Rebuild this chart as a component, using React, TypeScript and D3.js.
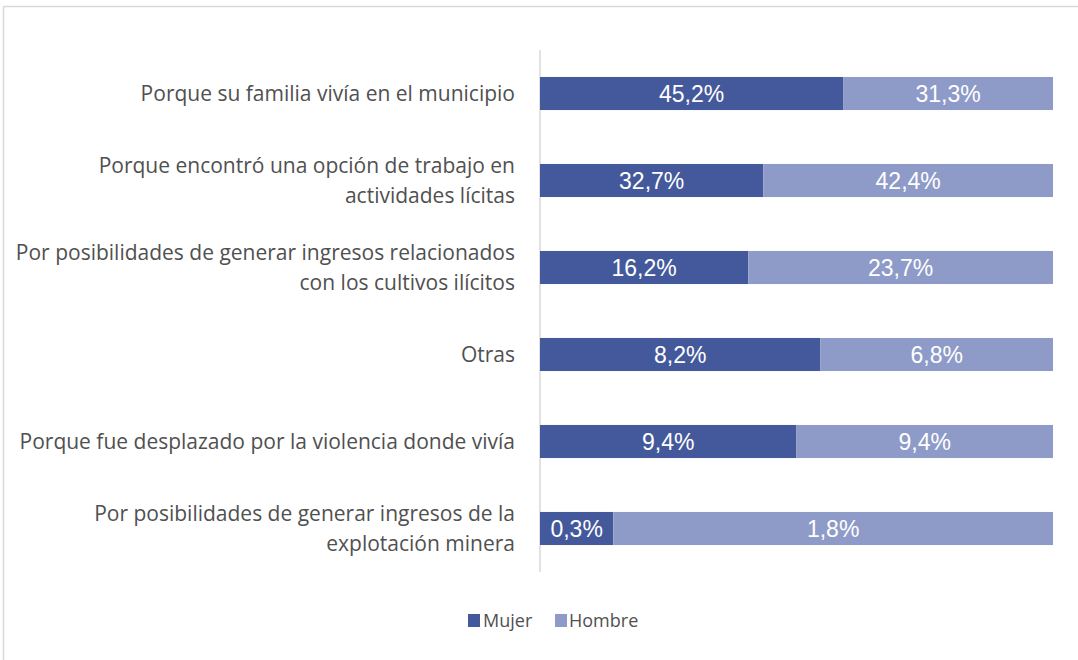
import React from "react";
import * as d3 from "d3";

const categories: string[][] = [
  ["Porque su familia vivía en el municipio"],
  ["Porque encontró una opción de trabajo en", "actividades lícitas"],
  ["Por posibilidades de generar ingresos relacionados", "con los cultivos ilícitos"],
  ["Otras"],
  ["Porque fue desplazado por la violencia donde vivía"],
  ["Por posibilidades de generar ingresos de la", "explotación minera"],
];
const mujer = [45.2, 32.7, 16.2, 8.2, 9.4, 0.3];
const hombre = [31.3, 42.4, 23.7, 6.8, 9.4, 1.8];
const seriesNames = ["Mujer", "Hombre"];
const colors = ["#44599b", "#8e9bc8"];

const W = 1078;
const H = 660;
const left = 540;
const right = 1053;
const top = 50;
const bottom = 572;

export default function App() {
  const keys = categories.map((_, i) => String(i));
  const y = d3.scaleBand<string>().domain(keys).range([top, bottom]).paddingInner(0.62).paddingOuter(0.31);
  const x = d3.scaleLinear().domain([0, 1]).range([left, right]);
  const fmt = (v: number) => v.toFixed(1).replace(".", ",") + "%";

  return (
    <svg width={W} height={H} style={{ position: "absolute", left: 0, top: 0, background: "#fff" }}
      fontFamily="'Liberation Sans', Arial, sans-serif">
      <rect x={3.5} y={6.5} width={W} height={H} fill="none" stroke="#d9d9d9" strokeWidth={1.5} />
      <line x1={left} x2={left} y1={top} y2={bottom} stroke="#d9d9d9" strokeWidth={1.5} />
      {keys.map((k, i) => {
        const total = mujer[i] + hombre[i];
        const m = mujer[i] / total;
        const y0 = y(k)!;
        const bh = y.bandwidth();
        const cy = y0 + bh / 2;
        const lines = categories[i];
        const segs = [
          { x0: 0, x1: m, v: mujer[i], c: colors[0] },
          { x0: m, x1: 1, v: hombre[i], c: colors[1] },
        ];
        return (
          <g key={k}>
            {segs.map((s, j) => (
              <g key={j}>
                <rect x={x(s.x0)} y={y0} width={x(s.x1) - x(s.x0)} height={bh} fill={s.c} />
                <text x={(x(s.x0) + x(s.x1)) / 2} y={cy} dy="0.36em" textAnchor="middle"
                  fill="#fff" fontSize={23}>{fmt(s.v)}</text>
              </g>
            ))}
            {lines.map((ln, li) => (
              <text key={li} x={515} y={cy + (li - (lines.length - 1) / 2) * 30} dy="0.36em"
                textAnchor="end" fill="#505050" fontSize={21} fontFamily="'Open Sans', sans-serif">{ln}</text>
            ))}
          </g>
        );
      })}
      <g transform="translate(0,621)" fontFamily="'Open Sans', sans-serif">
        <rect x={468} y={-7} width={12} height={13} fill={colors[0]} />
        <text x={483} y={0} dy="0.36em" fontSize={18} fill="#505050">{seriesNames[0]}</text>
        <rect x={555} y={-7} width={12} height={13} fill={colors[1]} />
        <text x={569} y={0} dy="0.36em" fontSize={18} fill="#505050">{seriesNames[1]}</text>
      </g>
    </svg>
  );
}
